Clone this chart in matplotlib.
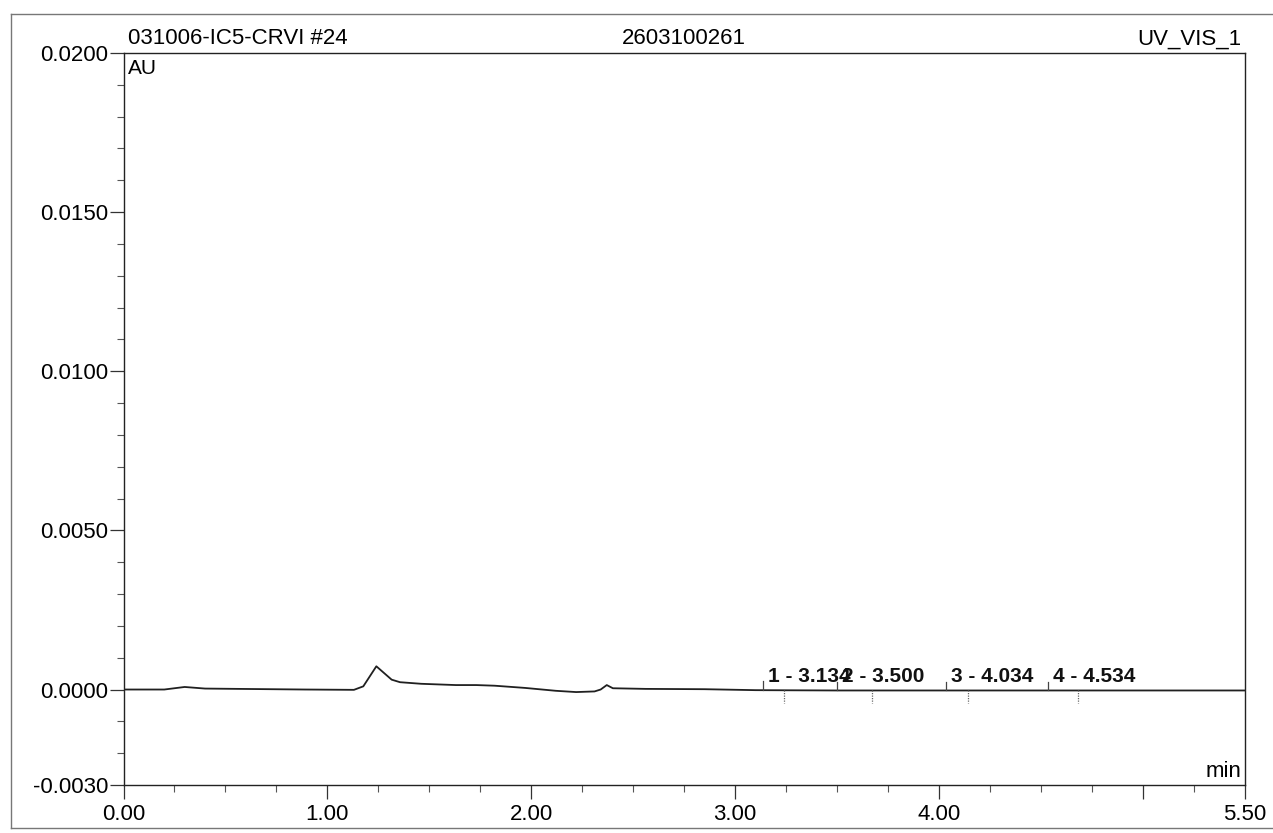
import numpy as np
import matplotlib
matplotlib.use("Agg")
import matplotlib.pyplot as plt
from matplotlib.lines import Line2D
from matplotlib.ticker import MultipleLocator, FixedLocator

# ---- data ----
time_min = [0.00, 0.20, 0.30, 0.40, 0.56, 0.89, 1.13, 1.176, 1.24, 1.315, 1.356,
            1.46, 1.63, 1.73, 1.82, 1.97, 2.12, 2.22, 2.31, 2.34, 2.37, 2.40,
            2.56, 2.85, 3.10, 3.50, 4.00, 4.50, 5.00, 5.50]
signal_au = [0.0, 0.0, 0.00008, 0.00003, 0.00002, 0.0, -0.00001, 0.00010, 0.00073,
             0.00031, 0.00023, 0.00018, 0.00014, 0.00014, 0.00012, 0.00005,
             -0.00004, -0.00008, -0.00006, 0.0, 0.00014, 0.00004, 0.00002,
             0.00001, -0.00002, -0.00003, -0.00003, -0.00003, -0.00003, -0.00003]

peak_numbers = [1, 2, 3, 4]
peak_times = [3.134, 3.500, 4.034, 4.534]
delimiter_times = [3.24, 3.67, 4.14, 4.68]

y_major = [0.0200, 0.0150, 0.0100, 0.0050, 0.0000, -0.0030]
x_major = [0.00, 1.00, 2.00, 3.00, 4.00, 5.00, 5.50]
x_labels = ["0.00", "1.00", "2.00", "3.00", "4.00", "", "5.50"]

title_left = "031006-IC5-CRVI #24"
title_center = "2603100261"
title_right = "UV_VIS_1"
y_unit = "AU"
x_unit = "min"

# ---- figure ----
plt.rcParams['font.family'] = ['Liberation Sans', 'DejaVu Sans']
W, H = 1273, 833
fig = plt.figure(figsize=(W / 100, H / 100), dpi=100)
L, R, T, B = 123.5, 1245, 53, 785
ax = fig.add_axes([L / W, 1 - B / H, (R - L) / W, (B - T) / H])

ax.plot(time_min, signal_au, color="#202020", lw=1.3)

ax.set_xlim(0, 5.5)
ax.set_ylim(-0.003, 0.02)

ax.yaxis.set_major_locator(FixedLocator(y_major))
ax.set_yticklabels([f"{v:.4f}" for v in y_major], fontsize=16)
ax.yaxis.set_minor_locator(MultipleLocator(0.001))
ax.xaxis.set_major_locator(FixedLocator(x_major))
ax.set_xticklabels(x_labels, fontsize=16)
ax.xaxis.set_minor_locator(MultipleLocator(0.25))

ax.tick_params(axis='both', which='major', direction='out', length=10, width=0.9,
               color="#333333")
ax.tick_params(axis='both', which='minor', direction='out', length=5, width=0.8,
               color="#555555")
ax.tick_params(axis='x', which='major', pad=4)
ax.tick_params(axis='y', which='major', pad=1)
for s in ax.spines.values():
    s.set_linewidth(1.0)
    s.set_color("#222222")

# titles above the plot
ax.text(0.004, 1.006, title_left, transform=ax.transAxes, ha='left', va='bottom', fontsize=16)
ax.text(0.5, 1.006, title_center, transform=ax.transAxes, ha='center', va='bottom', fontsize=16)
ax.text(0.997, 1.004, title_right, transform=ax.transAxes, ha='right', va='bottom', fontsize=16)
ax.text(0.004, 0.992, y_unit, transform=ax.transAxes, ha='left', va='top', fontsize=15)
ax.text(0.997, 0.004, x_unit, transform=ax.transAxes, ha='right', va='bottom', fontsize=16)

# peak markers and labels
for n, t in zip(peak_numbers, peak_times):
    yb = float(np.interp(t, time_min, signal_au))
    ax.plot([t, t], [yb, yb + 0.00028], color="#444444", lw=0.9)
    ax.annotate(f"{n} - {t:.3f}", xy=(t, yb), xytext=(5, 4), textcoords='offset pixels',
                ha='left', va='bottom', fontsize=15, fontweight='bold', color="#111111")
for t in delimiter_times:
    yb = float(np.interp(t, time_min, signal_au))
    ax.plot([t, t], [yb, yb - 0.0004], color="#666666", lw=0.9, ls=(0, (1, 1)))

# outer scanned frame
fx = lambda p: p / W
fy = lambda p: 1 - p / H
for xs, ys in [([11, 1280], [14, 14]), ([11, 11], [14, 828]), ([11, 1280], [828, 828])]:
    fig.add_artist(Line2D([fx(v) for v in xs], [fy(v) for v in ys],
                          transform=fig.transFigure, color="#777777", lw=1.0))

fig.savefig("out.png", dpi=100)
